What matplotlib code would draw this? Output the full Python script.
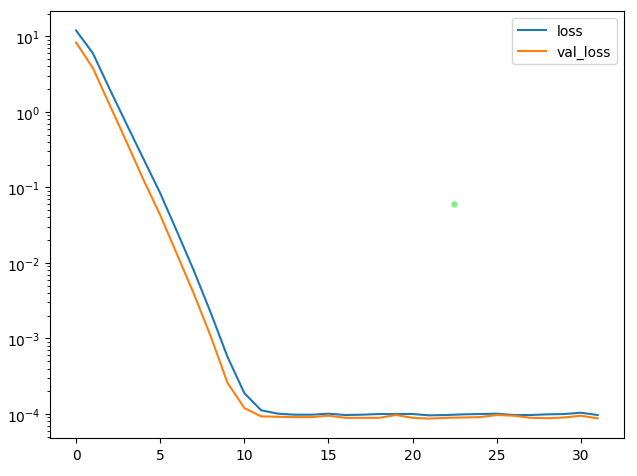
import matplotlib
matplotlib.use("Agg")
import matplotlib.pyplot as plt

epochs = list(range(32))
loss = [12.0, 5.97, 2.0, 0.69, 0.24, 0.084, 0.026, 0.0079, 0.0022, 0.00057,
        1.89e-4, 1.12e-4, 1.01e-4, 0.98e-4, 0.98e-4, 1.01e-4, 0.97e-4, 0.98e-4,
        1.0e-4, 1.0e-4, 1.0e-4, 0.96e-4, 0.97e-4, 0.99e-4, 1.0e-4, 1.01e-4,
        0.97e-4, 0.97e-4, 0.99e-4, 1.0e-4, 1.04e-4, 0.97e-4]
val_loss = [8.3, 3.8, 1.23, 0.40, 0.127, 0.043, 0.013, 0.0039, 0.00107, 0.000258,
            1.2e-4, 0.93e-4, 0.92e-4, 0.91e-4, 0.91e-4, 0.95e-4, 0.89e-4, 0.89e-4,
            0.89e-4, 0.97e-4, 0.89e-4, 0.87e-4, 0.89e-4, 0.90e-4, 0.91e-4, 0.97e-4,
            0.95e-4, 0.89e-4, 0.88e-4, 0.90e-4, 0.95e-4, 0.875e-4]
dot_x = [22.44]
dot_y = [0.0598]

fig = plt.figure(figsize=(6.37, 4.77), dpi=100)
ax = fig.add_axes([50/637, 1-439/477, (623.8-50)/637, (439-12)/477])
ax.plot(epochs, loss, label="loss")
ax.plot(epochs, val_loss, label="val_loss")
ax.set_yscale("log")
ax.plot(dot_x, dot_y, "o", color="#85f085", ms=3.6, zorder=3)
ax.legend(loc="upper right")
fig.savefig("out.png", dpi=100)
